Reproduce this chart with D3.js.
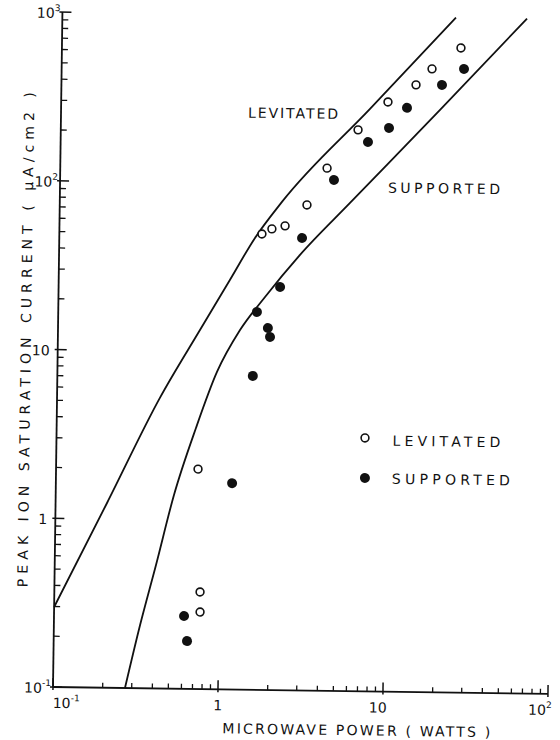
<!DOCTYPE html>
<html>
<head>
<meta charset="utf-8">
<script src="https://cdn.jsdelivr.net/npm/d3@7"></script>
<style>
  body { margin: 0; background: #fff; }
  svg text { font-family: "DejaVu Sans", sans-serif; fill: #111; }
</style>
</head>
<body>
<div id="chart"></div>
<script>
// power (W) vs peak ion saturation current (uA/cm2)
const levPower = [26.2, 17.56, 14.09, 9.56, 6.33, 4.14, 3.15, 2.33, 1.94, 1.69, 0.725, 0.764, 0.767];
const levCurrent = [661, 494, 396, 312, 212, 125, 75.4, 56.4, 54.0, 50.3, 2.01, 0.376, 0.286];

const supPower = [27.45, 20.25, 12.48, 9.75, 7.29, 4.57, 2.96, 2.20, 1.60, 1.87, 1.93, 1.53, 1.17, 0.614, 0.643];
const supCurrent = [497, 398, 289, 219, 180, 106.6, 48.0, 24.5, 17.35, 13.97, 12.37, 7.24, 1.67, 0.270, 0.192];

// envelope curves
const upperX = [0.1, 0.205, 0.42, 0.725, 1.09, 1.535, 2.22, 7.45, 24.3];
const upperY = [0.298, 1.244, 5.27, 13.4, 26.7, 47.6, 78.2, 283, 1000];
const lowerX = [0.273, 0.333, 0.411, 0.521, 0.699, 0.927, 1.268, 1.786, 2.886, 5.74, 19.8, 65.5];
const lowerY = [0.1, 0.237, 0.539, 1.405, 3.52, 7.59, 13.5, 21.3, 38.1, 78.1, 283, 1000];

const xTicks = [0.1, 1, 10, 100];
const xTickLabels = [["10", "-1"], ["1", ""], ["10", ""], ["10", "2"]];
const yTicks = [0.1, 1, 10, 100, 1000];
const yTickLabels = [["10", "-1"], ["1", ""], ["10", ""], ["10", "2"], ["10", "3"]];

const width = 560, height = 740;
const x = d3.scaleLog().domain([0.1, 100]).range([53, 548]);
const y = d3.scaleLog().domain([0.1, 1000]).range([687, 12]);

const svg = d3.select("#chart").append("svg")
  .attr("width", width).attr("height", height);

// the scanned figure sits slightly askew
const g = svg.append("g").attr("transform", "rotate(0.8, 53, 687)");

const ink = "#111";

// axes lines
g.append("line").attr("x1", x(0.1)).attr("x2", x(100)).attr("y1", y(0.1)).attr("y2", y(0.1))
  .attr("stroke", ink).attr("stroke-width", 1.8);
g.append("line").attr("x1", x(0.1)).attr("x2", x(0.1)).attr("y1", y(0.1)).attr("y2", y(1000))
  .attr("stroke", ink).attr("stroke-width", 1.8);

// minor + major ticks (inward)
const minors = [];
[0.1, 1, 10, 100].forEach(d => { for (let k = 2; k <= 9; k++) minors.push(d * k); });

g.selectAll(".xminor").data(minors.filter(v => v < 100)).join("line")
  .attr("x1", d => x(d)).attr("x2", d => x(d))
  .attr("y1", y(0.1)).attr("y2", y(0.1) - 5)
  .attr("stroke", ink).attr("stroke-width", 1.3);
g.selectAll(".xmajor").data(xTicks).join("line")
  .attr("x1", d => x(d)).attr("x2", d => x(d))
  .attr("y1", y(0.1) + 3).attr("y2", y(0.1) - 9)
  .attr("stroke", ink).attr("stroke-width", 1.5);

g.selectAll(".yminor").data(minors.filter(v => v < 1000)).join("line")
  .attr("x1", x(0.1)).attr("x2", x(0.1) + 6)
  .attr("y1", d => y(d)).attr("y2", d => y(d))
  .attr("stroke", ink).attr("stroke-width", 1.3);
g.selectAll(".ymajor").data(yTicks).join("line")
  .attr("x1", x(0.1) - 3).attr("x2", x(0.1) + 9)
  .attr("y1", d => y(d)).attr("y2", d => y(d))
  .attr("stroke", ink).attr("stroke-width", 1.5);

// tick labels
function supLabel(sel, parts) {
  sel.append("tspan").text(parts[0]);
  if (parts[1]) sel.append("tspan").attr("dy", -7).attr("font-size", 9).text(parts[1]);
}
const xAnchor = ["start", "middle", "middle", "end"];
const xShift = [0, 0, -5, 4];
xTicks.forEach((t, i) => {
  const tx = g.append("text").attr("x", x(t) + xShift[i]).attr("y", y(0.1) + 21)
    .attr("font-size", 14).attr("text-anchor", xAnchor[i]);
  supLabel(tx, xTickLabels[i]);
});
yTicks.forEach((t, i) => {
  const lab = yTickLabels[i];
  const tx = g.append("text").attr("x", x(0.1) - (lab[1] ? 2 : 8))
    .attr("y", y(t) + 6).attr("font-size", 14).attr("text-anchor", "end");
  supLabel(tx, lab);
});

// axis titles
g.append("text").attr("x", 357).attr("y", 731).attr("text-anchor", "middle")
  .attr("font-size", 14).attr("textLength", 268).attr("lengthAdjust", "spacing")
  .text("MICROWAVE POWER ( WATTS )");
g.append("text").attr("transform", "translate(26,340) rotate(-90)").attr("text-anchor", "middle")
  .attr("font-size", 14).attr("textLength", 495).attr("lengthAdjust", "spacing")
  .text("PEAK ION SATURATION CURRENT ( \u03bcA/cm2 )");

// curves
const line = d3.line().x(d => x(d[0])).y(d => y(d[1])).curve(d3.curveMonotoneX);
g.append("path").datum(upperX.map((v, i) => [v, upperY[i]]))
  .attr("d", line).attr("fill", "none").attr("stroke", ink).attr("stroke-width", 1.8);
g.append("path").datum(lowerX.map((v, i) => [v, lowerY[i]]))
  .attr("d", line).attr("fill", "none").attr("stroke", ink).attr("stroke-width", 1.8);

// curve labels
g.append("text").attr("x", 240).attr("y", 115).attr("font-size", 14).attr("textLength", 90)
  .attr("lengthAdjust", "spacing").text("LEVITATED");
g.append("text").attr("x", 381).attr("y", 188).attr("font-size", 14).attr("textLength", 112)
  .attr("lengthAdjust", "spacing").text("SUPPORTED");

// points
g.selectAll(".lev").data(levPower.map((v, i) => [v, levCurrent[i]])).join("circle")
  .attr("cx", d => x(d[0])).attr("cy", d => y(d[1])).attr("r", 3.9)
  .attr("fill", "#fff").attr("stroke", ink).attr("stroke-width", 1.6);
g.selectAll(".sup").data(supPower.map((v, i) => [v, supCurrent[i]])).join("circle")
  .attr("cx", d => x(d[0])).attr("cy", d => y(d[1])).attr("r", 5)
  .attr("fill", ink);

// legend
g.append("circle").attr("cx", 361.5).attr("cy", 433.6).attr("r", 3.9)
  .attr("fill", "#fff").attr("stroke", ink).attr("stroke-width", 1.6);
g.append("text").attr("x", 389).attr("y", 441).attr("font-size", 14).attr("textLength", 108)
  .attr("lengthAdjust", "spacing").text("LEVITATED");
g.append("circle").attr("cx", 362).attr("cy", 473.6).attr("r", 5).attr("fill", ink);
g.append("text").attr("x", 389).attr("y", 479).attr("font-size", 14).attr("textLength", 118)
  .attr("lengthAdjust", "spacing").text("SUPPORTED");
</script>
</body>
</html>
